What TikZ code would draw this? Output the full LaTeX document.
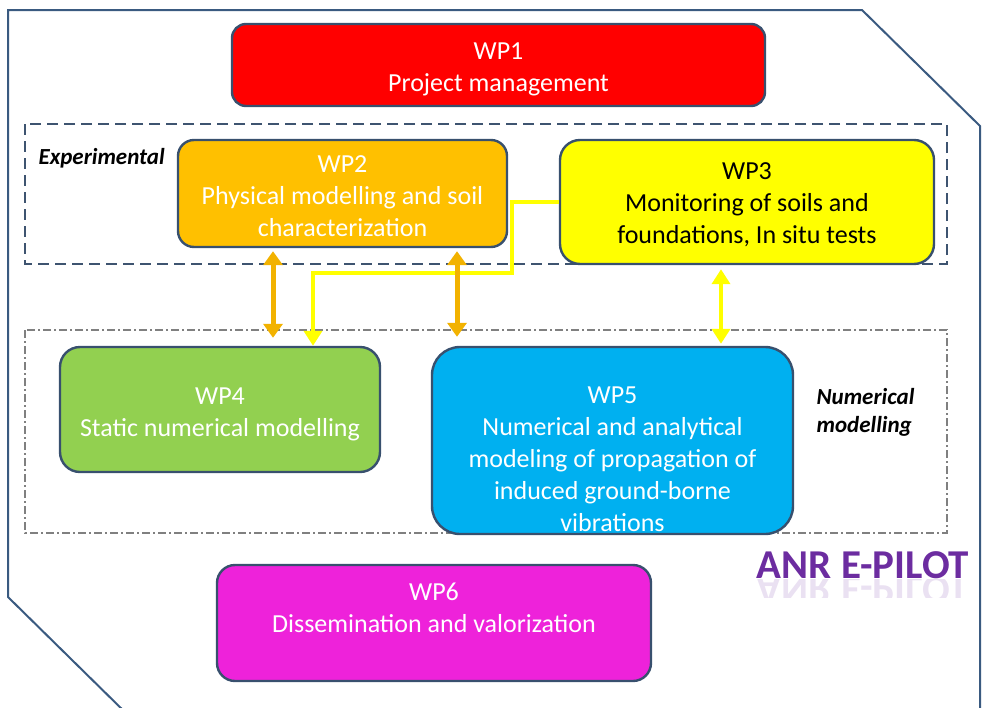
\documentclass[tikz,border=0pt]{standalone}
\usepackage{fontspec}
\setmainfont{Carlito}
\usetikzlibrary{arrows.meta}
\definecolor{framecol}{RGB}{58,90,128}
\definecolor{boxline}{RGB}{56,80,110}
\definecolor{dashcol}{RGB}{62,84,112}
\definecolor{dotcol}{RGB}{128,128,128}
\definecolor{wpred}{RGB}{255,0,0}
\definecolor{wporange}{RGB}{255,192,0}
\definecolor{wpyellow}{RGB}{255,255,0}
\definecolor{wpgreen}{RGB}{146,208,80}
\definecolor{wpblue}{RGB}{0,176,240}
\definecolor{wpmagenta}{RGB}{238,34,218}
\definecolor{arroworange}{RGB}{242,178,0}
\definecolor{anrpurple}{RGB}{108,44,160}
\tikzset{
    wpbox/.style = {draw = boxline, line width = 2.4pt, rounded corners = 16pt, inner sep = 0pt},
    wptext/.style = {align = center, font = \fontsize{26}{32}\selectfont},
    grouplabel/.style = {anchor = west, align = left, font = \bfseries\itshape\fontsize{23}{28}\selectfont},
    orangearrow/.style = {draw = arroworange, line width = 5pt, {Triangle[width = 19pt, length = 14pt]}-{Triangle[width = 19pt, length = 14pt]}},
    yellowline/.style = {draw = wpyellow, line width = 4pt},
    yellowtip/.style = {-{Triangle[width = 18pt, length = 15pt]}},
}
\begin{document}
\begin{tikzpicture}[x = 1pt, y = -1pt]
        \clip (0, 0) rectangle (1006, 707);
        \draw [framecol, line width = 2pt] (130, 717) -- (8, 597) -- (8, 10) -- (862, 10) -- (980, 126) -- (980, 720);
        \draw [dashcol, line width = 2.4pt, dash pattern = on 11pt off 6pt] (25, 124) rectangle (947, 264);
        \draw [dotcol, line width = 2pt, dash pattern = on 8pt off 3pt on 2pt off 3pt] (25, 330) rectangle (947, 533);
        \node [grouplabel] (experimental) at (35, 158) {Experimental};
        \node [grouplabel] (numerical) at (813, 412) {Numerical\\modelling};
        \node [wpbox, fill = wpred, minimum width = 533pt, minimum height = 82pt, rounded corners = 14pt] (wp1) at (498.5, 65) {};
        \node [wptext, text = white] (wp1text) at (498.5, 69) {WP1\\Project management};
        \node [wpbox, fill = wporange, minimum width = 329pt, minimum height = 107pt] (wp2) at (342.5, 193.5) {};
        \node [wptext, text = white] (wp2text) at (342.5, 196) {WP2\\Physical modelling and soil\\characterization};
        \node [wpbox, fill = wpyellow, minimum width = 374pt, minimum height = 124pt, rounded corners = 20pt] (wp3) at (747, 202) {};
        \node [wptext, text = black] (wp3text) at (747, 205) {WP3\\Monitoring of soils and\\foundations, In situ tests};
        \node [wpbox, fill = wpgreen, minimum width = 320pt, minimum height = 125pt, rounded corners = 20pt] (wp4) at (220, 409.5) {};
        \node [wptext, text = white] (wp4text) at (220, 414.5) {WP4\\Static numerical modelling};
        \node [wpbox, fill = wpblue, minimum width = 361pt, minimum height = 187pt, rounded corners = 28pt] (wp5) at (612.5, 440.5) {};
        \node [wptext, text = white] (wp5text) at (612.5, 459) {WP5\\Numerical and analytical\\modeling of propagation of\\induced ground-borne\\vibrations};
        \node [wpbox, fill = wpmagenta, minimum width = 434pt, minimum height = 116pt, rounded corners = 18pt] (wp6) at (434, 623) {};
        \node [wptext, text = white] (wp6text) at (434, 607.5) {WP6\\Dissemination and valorization};
        \node [text = anrpurple, font = \bfseries\fontsize{41}{49}\selectfont] (anr) at (863, 565) {ANR E-PILOT};
        \begin{scope}
            \clip (740, 579) rectangle (990, 597);
            \node [text = anrpurple, text opacity = 0.14, font = \bfseries\fontsize{41}{49}\selectfont] (anrmirror) at (863, 590) {\scalebox{1}[-1]{ANR E-PILOT}};
        \end{scope}
        \draw [yellowline, yellowtip] (wp3.west) -- ++(-47, 0) -- ++(0, 71) -| ([xshift = 93pt] wp4.north);
        \draw [yellowline, {Triangle[width = 18pt, length = 15pt]}-{Triangle[width = 18pt, length = 15pt]}, shorten <= 4pt, shorten >= 2pt] ([xshift = -26pt] wp3.south) -- ([xshift = 108.5pt] wp5.north);
        \draw [orangearrow, shorten <= 3pt, shorten >= 8pt] ([xshift = -69.5pt] wp2.south) -- ([xshift = 53pt] wp4.north);
        \draw [orangearrow, shorten <= 3pt, shorten >= 9pt] ([xshift = 114.5pt] wp2.south) -- ([xshift = -155.5pt] wp5.north);
\end{tikzpicture}
\end{document}
